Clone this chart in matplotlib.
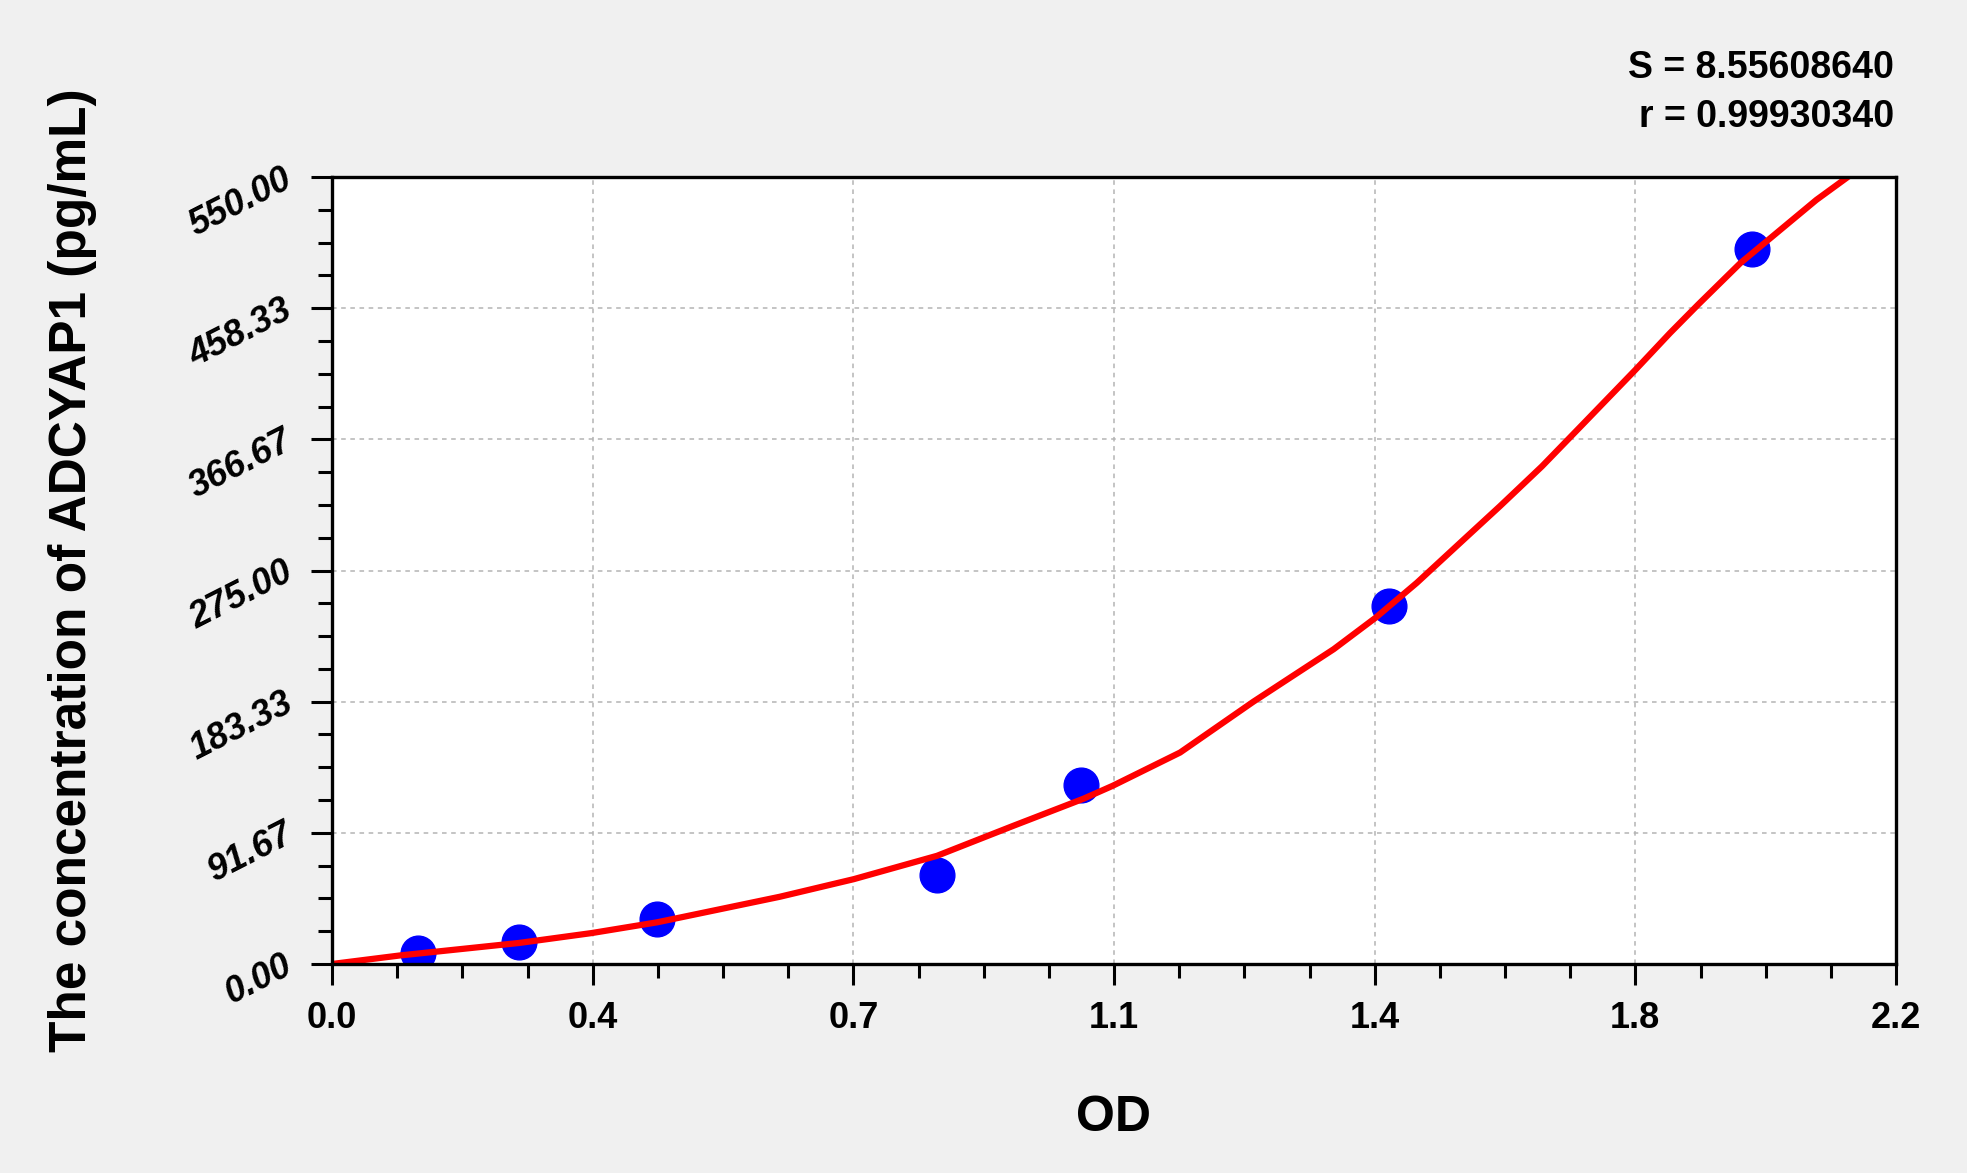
import matplotlib
matplotlib.use("Agg")
import matplotlib.pyplot as plt
from matplotlib.ticker import FixedLocator, AutoMinorLocator

# ---- data ----
od = [0.121, 0.263, 0.457, 0.851, 1.054, 1.487, 1.997]
conc = [7.8125, 15.625, 31.25, 62.5, 125.0, 250.0, 500.0]

curve_od = [0.000, 0.096, 0.263, 0.365, 0.457, 0.630, 0.734, 0.851, 0.958,
            1.057, 1.098, 1.193, 1.296, 1.352, 1.409, 1.468, 1.526, 1.596,
            1.643, 1.702, 1.760, 1.833, 1.882, 1.922, 1.981, 2.042, 2.088,
            2.138]
curve_conc = [0.0, 6.0, 14.7, 21.6, 29.1, 47.0, 59.3, 75.6, 96.5,
              115.5, 124.5, 147.8, 183.3, 201.5, 220.0, 242.0, 266.4, 298.5,
              320.0, 347.8, 377.5, 415.0, 440.9, 461.0, 489.8, 515.0, 534.0,
              552.1]

xtick_values = [0.0, 2.2 / 6, 2 * 2.2 / 6, 3 * 2.2 / 6, 4 * 2.2 / 6, 5 * 2.2 / 6, 2.2]
xtick_labels = ["0.0", "0.4", "0.7", "1.1", "1.4", "1.8", "2.2"]
ytick_values = [0.0, 550 / 6, 2 * 550 / 6, 3 * 550 / 6, 4 * 550 / 6, 5 * 550 / 6, 550.0]
ytick_labels = ["0.00", "91.67", "183.33", "275.00", "366.67", "458.33", "550.00"]

stats_lines = ["S = 8.55608640", "r = 0.99930340"]
x_title = "OD"
y_title = "The concentration of ADCYAP1 (pg/mL)"

# ---- style ----
plt.rcParams['font.family'] = ['Liberation Sans', 'DejaVu Sans']
plt.rcParams['font.weight'] = 'bold'

W, H = 1967, 1173
fig = plt.figure(figsize=(W / 100, H / 100), dpi=100)
fig.patch.set_facecolor('#f0f0f0')

left, right, top, bottom = 332, 1896, 177, 964
ax = fig.add_axes([left / W, 1 - bottom / H, (right - left) / W, (bottom - top) / H])
ax.set_facecolor('white')

ax.plot(od, conc, linestyle='none', marker='o', markersize=25,
        color='#0000ff', zorder=3)
ax.plot(curve_od, curve_conc, color='#ff0000', linewidth=4.5, zorder=4,
        solid_joinstyle='round', solid_capstyle='round')

ax.set_xlim(0, 2.2)
ax.set_ylim(0, 550)

ax.xaxis.set_major_locator(FixedLocator(xtick_values))
ax.yaxis.set_major_locator(FixedLocator(ytick_values))
ax.xaxis.set_minor_locator(AutoMinorLocator(4))
ax.yaxis.set_minor_locator(AutoMinorLocator(4))
ax.set_xticklabels(xtick_labels, fontsize=26, fontweight='bold')
ax.set_yticklabels(ytick_labels, fontsize=26, fontweight='bold',
                   fontstyle='italic', rotation=27, rotation_mode='anchor',
                   ha='right', va='center')

ax.tick_params(axis='both', which='major', direction='out', length=15,
               width=2.2, color='black')
ax.tick_params(axis='both', which='minor', direction='out', length=10,
               width=2.2, color='black')
ax.tick_params(axis='x', which='major', pad=12)
ax.tick_params(axis='y', which='major', pad=15)

for s in ax.spines.values():
    s.set_linewidth(2.4)
    s.set_color('black')
    s.set_zorder(5)

ax.grid(True, which='major', color='#b4b4b4', linewidth=1.1,
        linestyle=(0, (3, 3)))
ax.set_axisbelow(True)

ax.set_xlabel(x_title, fontsize=36, fontweight='bold')
ax.xaxis.set_label_coords(0.5, -0.2125)
ax.xaxis.label.set_verticalalignment('baseline')
ax.set_ylabel(y_title, fontsize=37, fontweight='bold')
ax.yaxis.set_label_coords(-0.166, 0.5)
ax.yaxis.label.set_verticalalignment('center')

ax.text(0.9987, 1.1256, stats_lines[0], transform=ax.transAxes,
        ha='right', va='baseline', fontsize=27, fontweight='bold')
ax.text(0.9987, 1.0640, stats_lines[1], transform=ax.transAxes,
        ha='right', va='baseline', fontsize=27, fontweight='bold')

fig.savefig('out.png', dpi=100, facecolor=fig.get_facecolor())
